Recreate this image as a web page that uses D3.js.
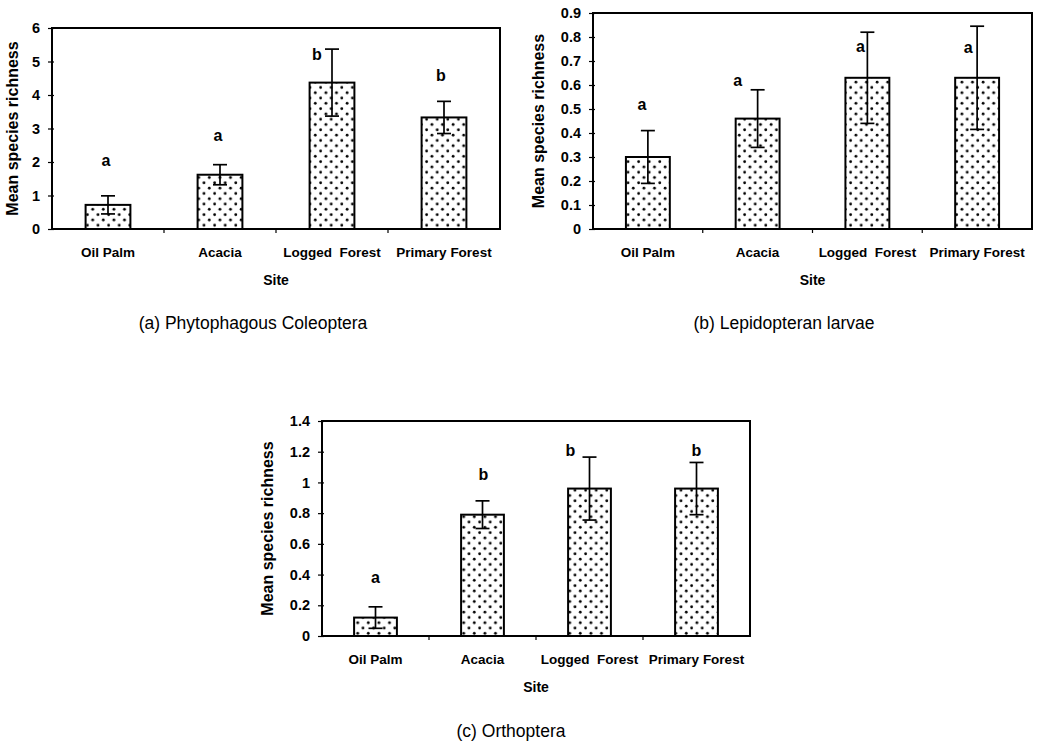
<!DOCTYPE html>
<html>
<head>
<meta charset="utf-8">
<script src="https://cdn.jsdelivr.net/npm/d3@7"></script>
<style>
  body { margin: 0; background: #fff; }
  svg { display: block; font-family: "Liberation Sans", Arial, Helvetica, sans-serif; }
  .tick text { font-weight: bold; }
</style>
</head>
<body>
<div id="chart"></div>
<script>
// sites along the x axis (double space as in the original labels)
const sites = ["Oil Palm", "Acacia", "Logged  Forest", "Primary Forest"];

// (a) Phytophagous Coleoptera
const coleopteraMean = [0.72, 1.62, 4.37, 3.33];
const coleopteraErr = [0.27, 0.30, 1.00, 0.48];
const coleopteraLetters = ["a", "a", "b", "b"];
const coleopteraLetterAt = [2.06, 2.80, 5.20, 4.60];
const coleopteraTicks = [0, 1, 2, 3, 4, 5, 6];

// (b) Lepidopteran larvae
const lepidopteraMean = [0.30, 0.46, 0.63, 0.63];
const lepidopteraErr = [0.11, 0.12, 0.19, 0.215];
const lepidopteraLetters = ["a", "a", "a", "a"];
const lepidopteraLetterAt = [0.52, 0.62, 0.76, 0.756];
const lepidopteraTicks = [0, 0.1, 0.2, 0.3, 0.4, 0.5, 0.6, 0.7, 0.8, 0.9];

// (c) Orthoptera
const orthopteraMean = [0.12, 0.79, 0.96, 0.96];
const orthopteraErr = [0.07, 0.09, 0.205, 0.17];
const orthopteraLetters = ["a", "b", "b", "b"];
const orthopteraLetterAt = [0.38, 1.055, 1.21, 1.21];
const orthopteraTicks = [0, 0.2, 0.4, 0.6, 0.8, 1, 1.2, 1.4];

const svg = d3.select("#chart").append("svg")
    .attr("width", 1038)
    .attr("height", 745);

// dotted fill like the printed figure
const pat = svg.append("defs").append("pattern")
    .attr("id", "dots")
    .attr("patternUnits", "userSpaceOnUse")
    .attr("width", 10.6)
    .attr("height", 10.6);
pat.append("rect").attr("width", 10.6).attr("height", 10.6).attr("fill", "#fff");
pat.append("circle").attr("cx", 2.6).attr("cy", 2.6).attr("r", 1.4).attr("fill", "#000");
pat.append("circle").attr("cx", 7.9).attr("cy", 7.9).attr("r", 1.4).attr("fill", "#000");

function drawPanel(p) {
    let g = svg.append("g");
    let w = p.right - p.left, h = p.bottom - p.top;

    let x = d3.scaleBand().domain(sites).range([p.left, p.right]);
    let y = d3.scaleLinear().domain([0, p.max]).range([p.bottom, p.top]);
    let bw = x.bandwidth();

    // y axis ticks and labels
    let yAxis = g.append("g")
        .attr("transform", `translate(${p.left},0)`)
        .call(d3.axisLeft(y).tickValues(p.ticks).tickSize(4).tickPadding(8)
            .tickFormat(d => String(+d.toFixed(1))));
    yAxis.select(".domain").remove();
    yAxis.selectAll(".tick text").style("font-size", "14.5px").attr("fill", "#000");
    yAxis.selectAll(".tick line").attr("stroke", "#000").attr("stroke-width", 1.2).attr("x2", -4).attr("x1", 2);

    // bars
    g.selectAll("rect.bar")
        .data(p.mean)
        .enter().append("rect")
        .attr("class", "bar")
        .attr("x", (d, i) => x(sites[i]) + bw * 0.3)
        .attr("width", bw * 0.4)
        .attr("y", d => y(d))
        .attr("height", d => p.bottom - y(d))
        .attr("fill", "url(#dots)")
        .attr("stroke", "#000")
        .attr("stroke-width", 2);

    // error bars
    let eb = g.selectAll("g.err")
        .data(p.mean)
        .enter().append("g")
        .attr("class", "err")
        .attr("stroke", "#000")
        .attr("stroke-width", 1.7);
    eb.append("line")
        .attr("x1", (d, i) => x(sites[i]) + bw / 2)
        .attr("x2", (d, i) => x(sites[i]) + bw / 2)
        .attr("y1", (d, i) => y(d + p.err[i]))
        .attr("y2", (d, i) => y(d - p.err[i]));
    [1, -1].forEach(s => {
        eb.append("line")
            .attr("x1", (d, i) => x(sites[i]) + bw / 2 - 7)
            .attr("x2", (d, i) => x(sites[i]) + bw / 2 + 7)
            .attr("y1", (d, i) => y(d + s * p.err[i]))
            .attr("y2", (d, i) => y(d + s * p.err[i]));
    });

    // significance letters
    g.selectAll("text.letter")
        .data(p.letters)
        .enter().append("text")
        .attr("class", "letter")
        .attr("x", (d, i) => x(sites[i]) + bw / 2 + p.letterDx[i])
        .attr("y", (d, i) => y(p.letterAt[i]))
        .attr("dy", "0.35em")
        .attr("text-anchor", "middle")
        .style("font-size", "16px")
        .style("font-weight", "bold")
        .text(d => d);

    // plot frame
    g.append("rect")
        .attr("x", p.left).attr("y", p.top)
        .attr("width", w).attr("height", h)
        .attr("fill", "none")
        .attr("stroke", "#000")
        .attr("stroke-width", 2);

    // small ticks between categories
    g.selectAll("line.xtick")
        .data(sites.slice(1))
        .enter().append("line")
        .attr("x1", d => x(d)).attr("x2", d => x(d))
        .attr("y1", p.bottom).attr("y2", p.bottom + 4)
        .attr("stroke", "#000").attr("stroke-width", 1.2);

    // category labels
    g.selectAll("text.cat")
        .data(sites)
        .enter().append("text")
        .attr("class", "cat")
        .attr("x", d => x(d) + bw / 2)
        .attr("y", p.bottom + 28)
        .attr("text-anchor", "middle")
        .style("white-space", "pre")
        .style("font-size", "13.5px")
        .style("font-weight", "bold")
        .text(d => d);

    g.append("text")
        .attr("x", p.left + w / 2)
        .attr("y", p.bottom + 56)
        .attr("text-anchor", "middle")
        .style("font-size", "14px")
        .style("font-weight", "bold")
        .text("Site");

    g.append("text")
        .attr("transform", `translate(${p.ylabX},${p.top + h / 2}) rotate(-90)`)
        .attr("dy", "0.35em")
        .attr("text-anchor", "middle")
        .style("font-size", "16px")
        .style("font-weight", "bold")
        .text("Mean species richness");

    g.append("text")
        .attr("x", p.capX)
        .attr("y", p.capY)
        .attr("text-anchor", "middle")
        .style("font-size", "17.5px")
        .text(p.caption);
}

drawPanel({
    left: 52, right: 500, top: 28, bottom: 229, max: 6,
    ticks: coleopteraTicks, mean: coleopteraMean, err: coleopteraErr,
    letters: coleopteraLetters, letterAt: coleopteraLetterAt, letterDx: [-2, -2, -15, -3],
    ylabX: 12, capX: 253, capY: 329, caption: "(a) Phytophagous Coleoptera"
});

drawPanel({
    left: 593, right: 1032, top: 13, bottom: 229, max: 0.9,
    ticks: lepidopteraTicks, mean: lepidopteraMean, err: lepidopteraErr,
    letters: lepidopteraLetters, letterAt: lepidopteraLetterAt, letterDx: [-6, -20, -7, -9],
    ylabX: 538, capX: 784, capY: 329, caption: "(b) Lepidopteran larvae"
});

drawPanel({
    left: 322, right: 750, top: 421, bottom: 636, max: 1.4,
    ticks: orthopteraTicks, mean: orthopteraMean, err: orthopteraErr,
    letters: orthopteraLetters, letterAt: orthopteraLetterAt, letterDx: [0, 1, -19, 0],
    ylabX: 267, capX: 511, capY: 737, caption: "(c) Orthoptera"
});
</script>
</body>
</html>
